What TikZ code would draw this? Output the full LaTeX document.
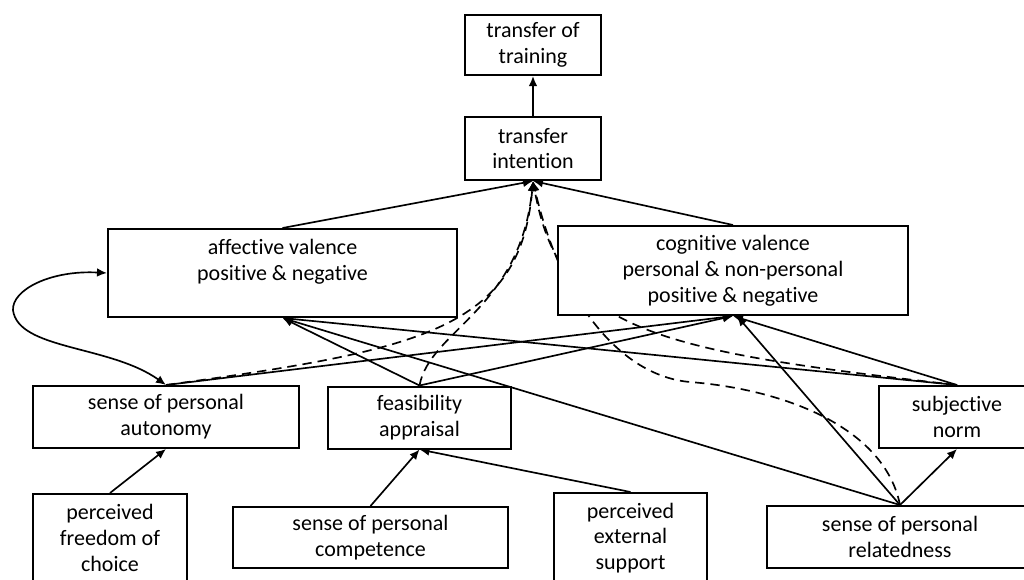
\documentclass[tikz,border=0pt]{standalone}
\usepackage{fontspec}
\setmainfont{Carlito}[Ligatures=NoCommon]
\usetikzlibrary{arrows.meta,backgrounds}

\begin{document}
\begin{tikzpicture}[x=0.75pt, y=-0.75pt, >={Latex[length=7.5pt,width=6.5pt]},
    box_style/.style={draw, line width=1.5pt, fill=white, align=center, inner sep=2pt,
        font=\fontsize{16.5}{19.4}\selectfont},
    link_style/.style={->, line width=1.25pt},
    dash_style/.style={->, line width=1.25pt, dash pattern=on 7pt off 4.5pt}
]
    \useasboundingbox (0,0) rectangle (1024,579);

    % Outcome and intention
    \node (training) at (533,45) [box_style, minimum width=102pt, minimum height=45pt] {transfer of\\training};
    \node (intention) at (533,148.5) [box_style, minimum width=102pt, minimum height=47.25pt] {transfer\\intention};

    % Valences
    \node (affective) at (282.5,273) [box_style, minimum width=261.75pt, minimum height=66pt] {affective valence\\positive \& negative\\~};
    \node (cognitive) at (733,270.5) [box_style, minimum width=262.5pt, minimum height=66.75pt] {cognitive valence\\personal \& non-personal\\positive \& negative};

    % Middle row
    \node (autonomy) at (166,417) [box_style, minimum width=199.5pt, minimum height=46.5pt] {sense of personal\\autonomy};
    \node (feasibility) at (419.5,417.5) [box_style, minimum width=137.25pt, minimum height=46.5pt] {feasibility\\appraisal};
    \node (norm) at (957,417) [box_style, minimum width=117pt, minimum height=46.5pt] {subjective\\norm};

    % Bottom row
    \node (freedom) at (110,538) [box_style, minimum width=115.5pt, minimum height=66pt] {perceived\\freedom of\\choice};
    \node (competence) at (370.5,537.5) [box_style, minimum width=206.25pt, minimum height=45.75pt] {sense of personal\\competence};
    \node (support) at (630.5,538) [box_style, minimum width=114.75pt, minimum height=67.5pt] {perceived\\external\\support};
    \node (relatedness) at (900,537) [box_style, minimum width=199.5pt, minimum height=46.5pt] {sense of personal\\relatedness};

    \begin{scope}[on background layer]
        % Solid paths
        \draw[link_style] (intention.north) -- (training.south);
        \draw[link_style] (affective.north) -- (intention.south);
        \draw[link_style] (cognitive.north) -- (intention.south);

        \draw[link_style] (autonomy.north) -- (cognitive.south);
        \draw[link_style] (feasibility.north) -- (affective.south);
        \draw[link_style] (feasibility.north) -- (cognitive.south);
        \draw[link_style] (norm.north) -- (affective.south);
        \draw[link_style] (norm.north) -- (cognitive.south);
        \draw[link_style] (relatedness.north) -- (affective.south);
        \draw[link_style] (relatedness.north) -- ([xshift=3pt]cognitive.south);
        \draw[link_style] (relatedness.north) -- (norm.south);

        \draw[link_style] (freedom.north) -- (autonomy.south);
        \draw[link_style] (competence.north) -- (feasibility.south);
        \draw[link_style] (support.north) -- (feasibility.south);

        % Mutual link
        \draw[link_style, <->] (affective.west) .. controls (50,270) and (12,290) .. (13,310)
            .. controls (18,350) and (110,345) .. (autonomy.north);

        % Dashed paths into the intention
        \draw[dash_style] (autonomy.north) .. controls (420,350) and (520,330) .. (intention.south);
        \draw[dash_style] (feasibility.north) .. controls (430,330) and (520,310) .. (intention.south);
        \draw[dash_style] (norm.north) .. controls (650,350) and (560,330) .. (intention.south);
        \draw[dash_style] (relatedness.north) .. controls (885,430) and (790,390) .. (690,382)
            .. controls (620,376) and (560,300) .. (intention.south);
    \end{scope}

\end{tikzpicture}
\end{document}
